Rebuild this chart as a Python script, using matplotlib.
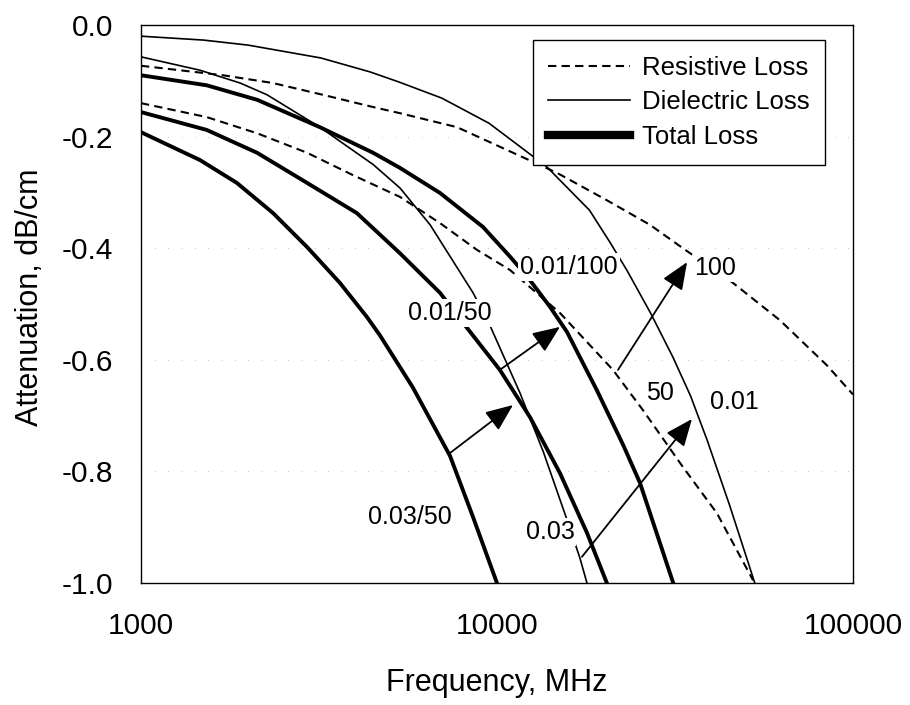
import matplotlib
matplotlib.use('Agg')
import matplotlib.pyplot as plt
from matplotlib.ticker import FormatStrFormatter

plt.rcParams['font.family'] = ['Liberation Sans', 'DejaVu Sans']

# resistive loss, 100 and 50 (dashed)
f_r100 = [1000, 1700, 2350, 3240, 4490, 5340, 7720, 11830, 14750, 20360, 26900, 33290, 46000, 62340, 84550, 100000]
v_r100 = [-0.073, -0.090, -0.104, -0.125, -0.147, -0.158, -0.183, -0.237, -0.265, -0.314, -0.358, -0.400, -0.462, -0.529, -0.610, -0.662]

f_r50 = [1000, 1530, 2120, 2930, 3940, 5340, 6920, 8790, 10880, 15030, 21170, 25700, 33290, 41500, 52400]
v_r50 = [-0.140, -0.165, -0.194, -0.229, -0.269, -0.308, -0.355, -0.403, -0.439, -0.516, -0.618, -0.690, -0.792, -0.875, -0.995]

# dielectric loss, tan d = 0.01 and 0.03 (thin)
f_d01 = [1000, 1500, 2000, 3200, 4400, 5300, 7000, 9500, 13800, 18200, 20800, 23200, 27000, 31200, 35000, 39000, 45000, 53000]
v_d01 = [-0.020, -0.027, -0.036, -0.059, -0.084, -0.102, -0.131, -0.176, -0.254, -0.332, -0.390, -0.440, -0.516, -0.595, -0.665, -0.745, -0.860, -1.0]

f_d03 = [1000, 1465, 1900, 2260, 3180, 4490, 5340, 6490, 8570, 9550, 11600, 13500, 15700, 17100, 17900]
v_d03 = [-0.057, -0.081, -0.104, -0.125, -0.183, -0.250, -0.292, -0.358, -0.480, -0.538, -0.659, -0.765, -0.885, -0.955, -1.0]

# total loss (thick)
f_t01_100 = [1000, 1530, 2120, 3180, 4490, 5340, 6920, 9140, 10880, 12140, 14090, 15730, 19100, 22600, 25200, 31200]
v_t01_100 = [-0.090, -0.108, -0.134, -0.183, -0.229, -0.256, -0.301, -0.362, -0.415, -0.450, -0.505, -0.550, -0.655, -0.752, -0.820, -0.998]

f_t01_50 = [1000, 1530, 2120, 2930, 4040, 5340, 6920, 8130, 10190, 12390, 15030, 17900, 20360]
v_t01_50 = [-0.156, -0.188, -0.229, -0.283, -0.337, -0.409, -0.480, -0.538, -0.618, -0.703, -0.803, -0.910, -1.0]

f_t03_50 = [1000, 1465, 1860, 2350, 2930, 3620, 4310, 4690, 5810, 7380, 8570, 10000]
v_t03_50 = [-0.192, -0.242, -0.283, -0.337, -0.398, -0.462, -0.523, -0.556, -0.650, -0.772, -0.882, -1.0]

yticks = [0.0, -0.2, -0.4, -0.6, -0.8, -1.0]
xticks = [1000, 10000, 100000]
xticklabels = ['1000', '10000', '100000']

fig = plt.figure(figsize=(9.1, 7.05), dpi=100)
ax = fig.add_axes([0.1549, 0.1730, 0.7824, 0.7915])

ax.plot(f_r100, v_r100, color='black', lw=1.5, dashes=(4, 2.5), label='Resistive Loss')
ax.plot(f_r50, v_r50, color='black', lw=1.5, dashes=(4, 2.5))
ax.plot(f_d01, v_d01, color='black', lw=1.2, label='Dielectric Loss')
ax.plot(f_d03, v_d03, color='black', lw=1.2)
ax.plot(f_t01_100, v_t01_100, color='black', lw=2.8, label='Total Loss')
ax.plot(f_t01_50, v_t01_50, color='black', lw=2.8)
ax.plot(f_t03_50, v_t03_50, color='black', lw=2.8)

ax.set_xscale('log')
ax.set_xlim(1000, 100000)
ax.set_ylim(-1.0, 0.0)
ax.set_xticks(xticks)
ax.set_xticklabels(xticklabels)
ax.minorticks_off()
ax.set_yticks(yticks)
ax.yaxis.set_major_formatter(FormatStrFormatter('%.1f'))
ax.tick_params(axis='both', length=0, labelsize=21.5)
ax.tick_params(axis='x', pad=21)
ax.tick_params(axis='y', pad=20)
ax.yaxis.grid(True, ls=(0, (1, 15)), color='0.7', lw=0.6)
for s in ax.spines.values():
    s.set_linewidth(1.0)

fig.text(497 / 910, 1 - 683 / 705, 'Frequency, MHz', fontsize=22, ha='center', va='center')
fig.text(30 / 910, 1 - 297 / 705, 'Attenuation, dB/cm', fontsize=22, ha='center', va='center', rotation=90)

# labels (white box hides the curves behind them) and arrows
lab_kw = dict(fontsize=18, ha='center', va='center', zorder=5,
              bbox=dict(facecolor='white', edgecolor='none', pad=1.5))
ax.text(5700, -0.882, '0.03/50', **lab_kw)
ax.text(7380, -0.516, '0.01/50', **lab_kw)
ax.text(15920, -0.434, '0.01/100', **lab_kw)
ax.text(40970, -0.436, '100', **lab_kw)
ax.text(28730, -0.660, '50', **lab_kw)
ax.text(46300, -0.676, '0.01', **lab_kw)
ax.text(14090, -0.909, '0.03', **lab_kw)

arr = dict(arrowstyle='-|>,head_length=0.6,head_width=0.25', mutation_scale=28,
           lw=1.3, color='black', shrinkA=0, shrinkB=0)
ax.annotate('', xy=(11090, -0.681), xytext=(7380, -0.767), arrowprops=arr, zorder=6)
ax.annotate('', xy=(15030, -0.541), xytext=(10190, -0.618), arrowprops=arr, zorder=6)
ax.annotate('', xy=(34200, -0.425), xytext=(21880, -0.618), arrowprops=arr, zorder=6)
ax.annotate('', xy=(35300, -0.706), xytext=(17330, -0.953), arrowprops=arr, zorder=6)

leg = ax.legend(loc='upper right', bbox_to_anchor=(0.9607, 0.973), borderaxespad=0,
                fontsize=18.5, frameon=True, fancybox=False, handlelength=3.2,
                handletextpad=0.45, borderpad=0.6, labelspacing=0.42)
leg.get_frame().set_edgecolor('black')
leg.get_frame().set_linewidth(1.0)
leg.get_frame().set_alpha(1.0)
leg.get_lines()[2].set_linewidth(6)
leg.set_zorder(7)

fig.savefig('out.png', dpi=100)
